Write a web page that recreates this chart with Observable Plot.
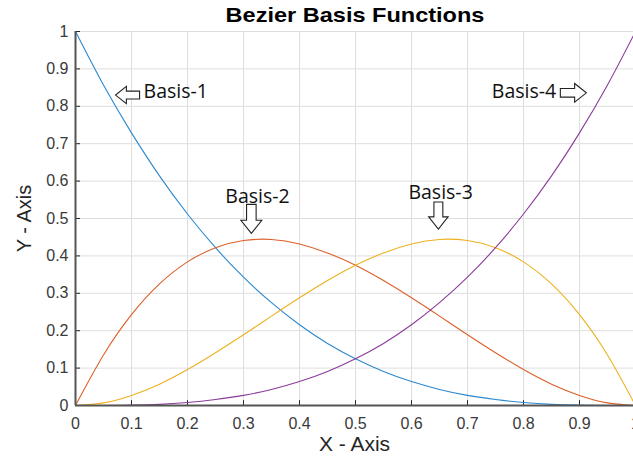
<!DOCTYPE html>
<html>
<head>
<meta charset="utf-8">
<script src="https://cdn.jsdelivr.net/npm/d3@7"></script>
<script src="https://cdn.jsdelivr.net/npm/@observablehq/plot@0.6"></script>
<style>
  html, body { margin: 0; padding: 0; background: #fff; overflow: hidden; }
  #wrap { position: relative; width: 633px; height: 458px; }
  #title { position: absolute; left: 75px; top: 3px; width: 560px; text-align: center; font: bold 21px "Liberation Sans", Arial, sans-serif; color: #000; line-height: 24px; transform: scaleX(1.12); transform-origin: 280px 0; z-index: 2; }
  svg { display: block; }
</style>
</head>
<body>
<div id="wrap">
<div id="title">Bezier Basis Functions</div>
<div id="chart"></div>
</div>
<script>
const t      = [0, 0.05, 0.1, 0.15, 0.2, 0.25, 0.3, 0.35, 0.4, 0.45, 0.5, 0.55, 0.6, 0.65, 0.7, 0.75, 0.8, 0.85, 0.9, 0.95, 1];
const basis1 = [1, 0.857, 0.729, 0.614, 0.512, 0.422, 0.343, 0.275, 0.216, 0.166, 0.125, 0.091, 0.064, 0.043, 0.027, 0.016, 0.008, 0.003, 0.001, 0.0001, 0];
const basis2 = [0, 0.135, 0.243, 0.325, 0.384, 0.422, 0.441, 0.444, 0.432, 0.408, 0.375, 0.334, 0.288, 0.239, 0.189, 0.141, 0.096, 0.057, 0.027, 0.007, 0];
const basis3 = [0, 0.007, 0.027, 0.057, 0.096, 0.141, 0.189, 0.239, 0.288, 0.334, 0.375, 0.408, 0.432, 0.444, 0.441, 0.422, 0.384, 0.325, 0.243, 0.135, 0];
const basis4 = [0, 0.0001, 0.001, 0.003, 0.008, 0.016, 0.027, 0.043, 0.064, 0.091, 0.125, 0.166, 0.216, 0.275, 0.343, 0.422, 0.512, 0.614, 0.729, 0.857, 1];
const seriesNames  = ["Basis-1", "Basis-2", "Basis-3", "Basis-4"];
const seriesColors = ["#2b88cf", "#dd5f28", "#EDB120", "#8a3b9a"];
const xTicks = [0, 0.1, 0.2, 0.3, 0.4, 0.5, 0.6, 0.7, 0.8, 0.9, 1];
const yTicks = [0, 0.1, 0.2, 0.3, 0.4, 0.5, 0.6, 0.7, 0.8, 0.9, 1];
const labelNames = ["Basis-1", "Basis-2", "Basis-3", "Basis-4"];
const labelX     = [0.179, 0.325, 0.652, 0.801];
const labelY     = [0.840, 0.559, 0.570, 0.840];
const arrowX     = [0.093, 0.314, 0.648, 0.889];
const arrowY     = [0.830, 0.499, 0.508, 0.836];
const arrowAngle = [180, 90, 90, 0];
const arrowSize  = [12, 14.5, 13.5, 13];

const allSeries = [basis1, basis2, basis3, basis4];
const data = [];
allSeries.forEach((vals, s) => vals.forEach((v, i) => data.push({t: t[i], v, series: seriesNames[s]})));
const labels = labelNames.map((name, i) => ({name, x: labelX[i], y: labelY[i]}));

// outlined block arrow pointing right; rotated per annotation
const blockArrow = {
  draw(context, size) {
    const r = Math.sqrt(size / Math.PI);
    const h = 0.9 * r, hw = 0.72 * r, sw = 0.33 * r;
    context.moveTo(-r, -sw);
    context.lineTo(r - h, -sw);
    context.lineTo(r - h, -hw);
    context.lineTo(r, 0);
    context.lineTo(r - h, hw);
    context.lineTo(r - h, sw);
    context.lineTo(-r, sw);
    context.closePath();
  }
};
const arrowMarks = arrowX.map((x, i) =>
  Plot.dot([{x, y: arrowY[i]}], {x: "x", y: "y", r: arrowSize[i], rotate: arrowAngle[i], symbol: blockArrow, fill: "#fff", stroke: "#222", strokeWidth: 1.1})
);

const plot = Plot.plot({
  width: 633,
  height: 458,
  marginTop: 31,
  marginBottom: 53,
  marginLeft: 75,
  marginRight: 0,
  style: {fontFamily: "'Liberation Sans', Arial, sans-serif", fontSize: "16px", background: "#fff", overflow: "visible"},
  x: {domain: [0, 1], range: [75, 635], axis: null},
  y: {domain: [0, 1], axis: null},
  color: {domain: seriesNames, range: seriesColors},
  marks: [
    Plot.gridX(xTicks, {stroke: "#dedede", strokeOpacity: 1}),
    Plot.gridY(yTicks, {stroke: "#dedede", strokeOpacity: 1}),
    Plot.ruleX(xTicks, {x: d => d, y1: 0, y2: 0.013, stroke: "#262626", strokeWidth: 1}),
    Plot.ruleY(yTicks, {y: d => d, x1: 0, x2: 0.009, stroke: "#262626", strokeWidth: 1}),
    Plot.text(xTicks, {x: d => d, y: 0, dy: 18, text: d => String(d), fontSize: 16, fill: "#3a3a3a"}),
    Plot.text(yTicks, {x: 0, y: d => d, dx: -7, textAnchor: "end", text: d => String(d), fontSize: 16, fill: "#3a3a3a"}),
    Plot.line(data, {x: "t", y: "v", stroke: "series", curve: "natural", strokeWidth: 1.1}),
    Plot.ruleX([0], {stroke: "#555", strokeWidth: 2}),
    Plot.ruleY([0], {stroke: "#555", strokeWidth: 2}),
    Plot.text(labels, {x: "x", y: "y", text: "name", fontSize: 19.5, fill: "#111", fontFamily: "'Open Sans', sans-serif"}),
    ...arrowMarks,
    Plot.text(["X - Axis"], {frameAnchor: "bottom", textAnchor: "middle", dy: 45, fontSize: 21, fill: "#262626", text: d => d}),
    Plot.text(["Y - Axis"], {frameAnchor: "left", textAnchor: "middle", dx: -51, rotate: -90, fontSize: 20, fill: "#262626", text: d => d})
  ]
});
document.getElementById("chart").appendChild(plot);
</script>
</body>
</html>
